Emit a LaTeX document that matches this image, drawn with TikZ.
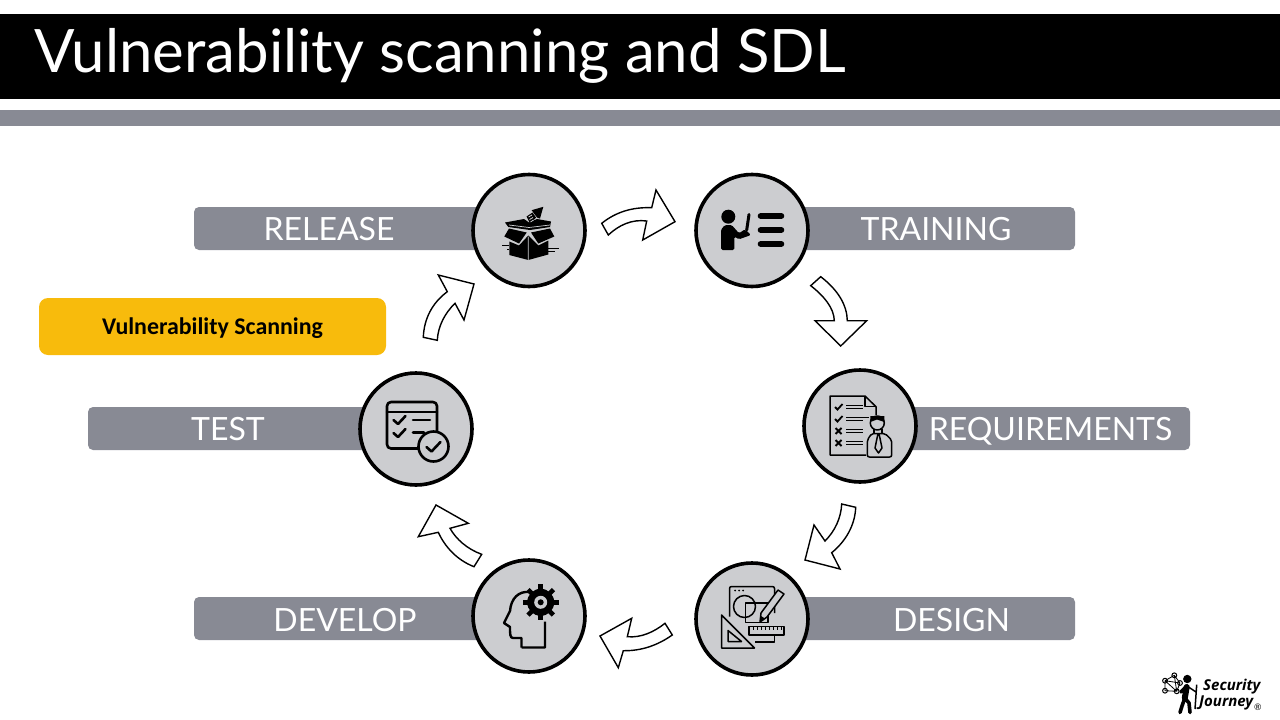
\documentclass[tikz,border=0pt]{standalone}
\usepackage{fontspec}
\setmainfont{Lato}
\newfontfamily\boxfont{Carlito}
\newfontfamily\logofont{Open Sans}
\definecolor{bargrey}{HTML}{888A94}
\definecolor{discgrey}{HTML}{CCCDD0}
\definecolor{scanyellow}{HTML}{F8BB0C}
\tikzset{
  stagebar/.style={fill=bargrey,rounded corners=5pt,minimum height=43pt,inner sep=0pt},
  stagelabel/.style={text=white,font=\fontsize{32}{32}\selectfont,inner sep=0pt,text height=23pt,text depth=0pt},
  stagedisc/.style={circle,draw=black,fill=discgrey,line width=3.6pt,minimum size=112pt,inner sep=0pt},
  cyclearrow/.style={draw=black,fill=white,line width=1.4pt,line join=miter},
  iconline/.style={draw=black,line width=1.5pt,line join=round},
  iconthick/.style={draw=black,line width=2.6pt,line cap=round,line join=round},
}
\begin{document}
\begin{tikzpicture}[x=1pt,y=-1pt]
  \useasboundingbox (0,0) rectangle (1280,720);
  % header
  \fill[black] (0,14) rectangle (1280,99);
  \fill[bargrey] (0,110) rectangle (1280,126);
  \node[anchor=base west,text=white,font=\fontsize{59.9}{60}\selectfont,inner sep=0pt] (title) at (34,72) {Vulnerability scanning and SDL};
  % bars
  \node[stagebar,minimum width=300pt] (releasebar) at (344,228.5) {};
  \node[stagebar,minimum width=300pt] (trainingbar) at (925,228.5) {};
  \node[stagebar,minimum width=300pt] (requirementsbar) at (1040,428.5) {};
  \node[stagebar,minimum width=300pt] (designbar) at (925,618.5) {};
  \node[stagebar,minimum width=300pt] (developbar) at (344,618.5) {};
  \node[stagebar,minimum width=300pt] (testbar) at (238,428.5) {};
  \node[stagelabel] (releaselabel) at (329,228.5) {RELEASE};
  \node[stagelabel] (traininglabel) at (936,228.5) {TRAINING};
  \node[stagelabel] (requirementslabel) at (1050.5,428.5) {REQUIREMENTS};
  \node[stagelabel] (designlabel) at (951.5,619.5) {DESIGN};
  \node[stagelabel] (developlabel) at (345,619.5) {DEVELOP};
  \node[stagelabel] (testlabel) at (228,428.5) {TEST};
  % discs
  \node[stagedisc] (release) at (529,230.5) {};
  \node[stagedisc] (training) at (752,230.5) {};
  \node[stagedisc] (requirements) at (860,426) {};
  \node[stagedisc] (design) at (752,619) {};
  \node[stagedisc] (develop) at (529,616) {};
  \node[stagedisc] (test) at (416,429) {};
  % yellow box
  \node[fill=scanyellow,rounded corners=9pt,minimum width=347pt,minimum height=57pt,inner sep=0pt,font=\boxfont\bfseries\fontsize{23.9}{24}\selectfont,text height=15pt,text depth=0pt] (scanning) at (212.5,326.5) {Vulnerability Scanning};
  % cycle arrows
  \draw[cyclearrow] (601.7,223.3) .. controls (616,212) and (632,207) .. (651.7,207.7) -- (656,190) -- (675,221.7) -- (642.7,240) -- (646.7,221) .. controls (632,219) and (619,225) .. (608.3,235) -- cycle;
  \draw[cyclearrow] (810.7,285.7) -- (820.7,276.7) .. controls (838,290) and (847,305) .. (847.3,320.7) -- (866.7,320.7) -- (840.7,346) -- (815,320.7) -- (834.3,320.7) .. controls (834,308) and (824,296) .. cycle;
  \draw[cyclearrow] (841.7,504) -- (855.7,507.3) .. controls (855,525) and (846,541) .. (831.7,552.7) -- (840,569) -- (805,560) -- (814,525) -- (825,541) .. controls (835,531) and (841,518) .. cycle;
  \draw[cyclearrow] (665,623.3) -- (672.3,635) .. controls (658,645) and (642,651) .. (623.3,650.7) -- (618.3,667.7) -- (600,636) -- (631.7,618.3) -- (627.3,636.7) .. controls (641,638) and (654,632) .. cycle;
  \draw[cyclearrow] (481.7,554.3) -- (474,566.7) .. controls (457,560) and (445,547) .. (438.3,532.3) -- (418.3,536.7) -- (436,505) -- (468.3,523.3) -- (450,528.3) .. controls (456,539) and (467,549) .. cycle;
  \draw[cyclearrow] (423.3,337.3) -- (437.3,340.3) .. controls (438,326) and (445,313) .. (455,303.3) -- (464,320) -- (474,284) -- (438.3,275) -- (447.3,291.7) .. controls (432,303) and (424,319) .. cycle;
  % release icon
  \begin{scope}[shift={(release.center)}]
    \fill (-19.7,11) -- (-10,15) -- (-0.7,5) -- (9.3,15) -- (19.3,10) -- (19.3,24) -- (-0.7,29.5) -- (-19.7,24.5) -- cycle;
    \fill (-24.7,6) -- (-20,-2) -- (-2.3,2) -- (-10,13) -- cycle;
    \fill (25.3,6) -- (21,-2) -- (2,2) -- (9.3,13) -- cycle;
    \fill (-24,-8) -- (-5,-11.5) -- (0,-8) -- (8,-11.5) -- (22,-9) -- (21,-3.5) -- (1,-0.5) -- (-20.7,-3.5) -- cycle;
    \draw[discgrey,line width=.7pt] (-20,-5.5) -- (0,-3) -- (21,-5.5) (-0.7,6) -- (-0.7,29.5);
    \draw[black,line width=.9pt] (-27,15) -- (-20,15) (-22,19) -- (-20,19) (19,18) -- (30,18) (19,21) -- (26,21);
    \fill (14.3,-23.7) -- (2.7,-20.3) -- (5,-17) -- (8,-13) -- (11,-12) -- cycle;
    \fill[black] (-2.5,-14) -- (3.5,-18) -- (7,-13) -- (1,-7) -- cycle;
    \draw[discgrey,line width=.8pt] (-0.5,-13.5) -- (3,-15.5) (0.5,-11) -- (4,-13) (1.5,-8.5) -- (4.5,-10.5);
  \end{scope}
  % training icon
  \begin{scope}[shift={(training.center)}]
    \fill (-23.7,-13.8) circle[radius=7];
    \fill[rounded corners=1.5pt] (-31,19.5) -- (-31,-1) -- (-27,-5.5) -- (-20.3,-5.5) -- (-13,2.8) -- (-7,-1.2) -- (-1,4.5) -- (-13,8.8) -- (-17.7,6) -- (-17.7,19.5) -- cycle;
    \draw[black,line width=3pt,line cap=round] (-3,-16) -- (-5.3,-0.5);
    \draw[black,line width=6pt,line cap=round] (8.7,-14.5) -- (29.3,-14.5) (8.7,-0.5) -- (29.3,-0.5) (8.7,13.5) -- (29.3,13.5);
  \end{scope}
  % requirements icon
  \begin{scope}[shift={(requirements.center)}]
    \draw[iconline] (16,-11) -- (16,-19.3) -- (5,-30) -- (-30,-30) -- (-30,29) -- (6,29);
    \draw[iconline] (5,-30) -- (5,-19.3) -- (16,-19.3);
    \foreach \rowy in {-19,-7,5,17}
      \draw[black,line width=1.2pt] (-14,\rowy-1.8) -- (3,\rowy-1.8) (-14,\rowy+1.8) -- (3,\rowy+1.8);
    \draw[black,line width=1.2pt] (3,-8.8) -- (9,-8.8);
    \foreach \rowy in {-19,-7}
      \draw[black,line width=1.8pt] (-25,\rowy) -- (-22.5,\rowy+2.5) -- (-17.5,\rowy-3);
    \foreach \rowy in {5,17}
      \draw[black,line width=1.9pt] (-24.5,\rowy-3) -- (-18.5,\rowy+3) (-24.5,\rowy+3) -- (-18.5,\rowy-3);
    \draw[iconline,rounded corners=2pt] (7.3,31) -- (7.3,14) -- (11.7,7.5) -- (25,7.5) -- (31.7,14) -- (31.7,31) -- cycle;
    \draw[iconline] (17.3,-3) circle[radius=7];
    \fill (10.3,-4) -- (10.3,-10) -- (24.3,-10) -- (24.3,-4) -- (17,-6.5) -- cycle;
    \draw[iconline] (18,7.5) -- (15,22) -- (18.5,27) -- (22,22) -- (19,7.5);
    \draw[iconline] (14,3) -- (14,7.5) (22,3) -- (22,7.5);
  \end{scope}
  % design icon
  \begin{scope}[shift={(design.center)}]
    \draw[iconline,rounded corners=2pt] (-22.5,-2.5) -- (-22.5,-32.5) -- (22.5,-32.5) -- (22.5,-6);
    \draw[iconline] (22.5,16) -- (22.5,23) -- (3,23);
    \foreach \dotx in {-17,-13,-9}
      \fill (\dotx,-28.5) circle[radius=1];
    \draw[iconline] (-7.5,-12.5) circle[radius=11];
    \draw[iconline] (-6.5,-16) rectangle (16,3.5);
    \draw[iconline,fill=discgrey] (8,3) -- (9,-6) -- (26,-29) -- (32,-25) -- (15,-2) -- cycle;
    \fill (8,3) -- (9,-3) -- (13,-0.5) -- cycle;
    \draw[iconline] (-30.5,-4) -- (2.5,29) -- (-30.5,29) -- cycle;
    \draw[iconline] (-24,11.5) -- (-10.5,22.5) -- (-24,22.5) -- cycle;
    \draw[iconline,fill=discgrey] (-3,7.5) rectangle (32,16);
    \foreach \tickx in {1,5,...,29}
      \draw[black,line width=.9pt] (\tickx,7.5) -- (\tickx,11);
  \end{scope}
  % develop icon
  \begin{scope}[shift={(develop.center)}]
    \draw[black,line width=2.4pt,line join=round] (-7.5,31.5) -- (16,31.5) -- (16,5.5) (-7.5,31.5) -- (-7.5,22) -- (-16,22) .. controls (-19,22) and (-19,18) .. (-19,11) -- (-25,7) -- (-19,-5) .. controls (-18,-18) and (-10,-25) .. (0,-24);
    \fill (11.7,-13.7) circle[radius=13.5];
    \foreach \toothangle in {0,45,...,315}
      \draw[black,line width=4.6pt] ([shift={(11.7,-13.7)}]\toothangle:12) -- ([shift={(11.7,-13.7)}]\toothangle:18);
    \fill[discgrey] (11.7,-13.7) circle[radius=6.5];
    \fill (11.7,-13.7) circle[radius=3];
  \end{scope}
  % test icon
  \begin{scope}[shift={(test.center)}]
    \draw[iconthick,rounded corners=4pt] (17,19.5) -- (-29,19.5) -- (-29,-27) -- (21,-27) -- (21,4);
    \draw[iconthick] (-29,-17) -- (21,-17);
    \foreach \rowy in {-9,4}
      \draw[iconthick] (-22.5,\rowy) -- (-18,\rowy+4) -- (-10.5,\rowy-4);
    \draw[iconthick] (-3,-9) -- (14,-9) (-3,3.5) -- (8,3.5);
    \draw[iconthick,fill=discgrey] (17.5,17.5) circle[radius=15];
    \draw[iconthick] (10.5,18) -- (15.5,22.5) -- (24.5,13);
  \end{scope}
  % logo
  \begin{scope}[shift={(1150,665)}]
    \foreach \px/\py/\pname in {15/15.7/a,24.3/10.3/b,15/25.7/c,26.7/26.3/d,30/18/e}
      \draw[black,line width=1pt] (\px,\py) circle[radius=2.4] coordinate (\pname);
    \draw[black,line width=.8pt] (a) -- (b) -- (e) -- (d) -- (c) -- (a) (a) -- (e) (a) -- (d) (b) -- (d);
    \fill (37.3,14) circle[radius=4.2];
    \draw[black,line width=6pt,line cap=round] (36.7,22) -- (34.8,33);
    \draw[black,line width=3.6pt,line cap=round,line join=round] (34.8,33) -- (32,41) -- (30,47.5) (34.8,33) -- (39,38) -- (40,47.5) (36.7,21) -- (31,27);
    \draw[black,line width=1.5pt] (46.7,19.7) -- (45,44) (37,21) -- (46,27);
  \end{scope}
  \node[anchor=base west,inner sep=0pt,font=\logofont\bfseries\itshape\fontsize{15}{15}\selectfont] (logotop) at (1203,690) {Security};
  \node[anchor=base west,inner sep=0pt,font=\logofont\bfseries\itshape\fontsize{15}{15}\selectfont] (logobottom) at (1199,706) {Journey};
  \node[anchor=base west,inner sep=0pt,font=\fontsize{9}{9}\selectfont] (logomark) at (1254,710) {\textregistered};
\end{tikzpicture}
\end{document}
